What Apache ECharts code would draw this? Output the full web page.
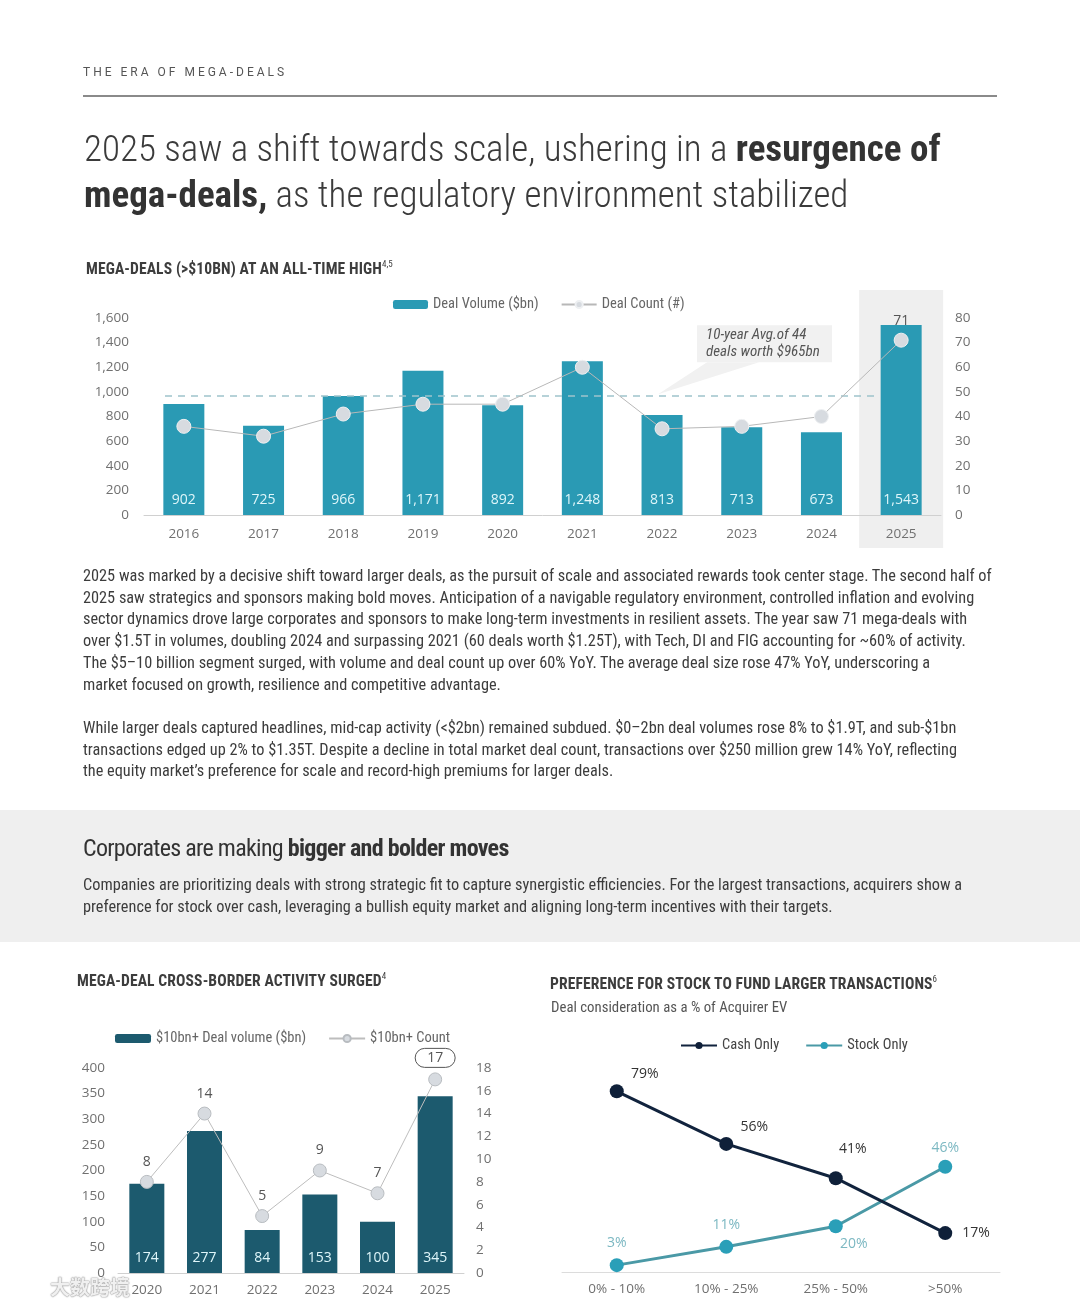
<!DOCTYPE html>
<html><head><meta charset="utf-8">
<script src="https://cdn.jsdelivr.net/npm/echarts@6/dist/echarts.min.js"></script>
<style>
html,body{margin:0;padding:0;background:#fff;}
body{width:1080px;height:1306px;position:relative;overflow:hidden;font-family:"Liberation Sans Narrow","Roboto Condensed","Roboto",sans-serif;color:#3a3a3a;}
.abs{position:absolute;white-space:nowrap;z-index:2;}
#band{position:absolute;left:0;top:810px;width:1080px;height:132px;background:#efefef;z-index:0;}
#chart{position:absolute;left:0;top:0;width:1080px;height:1306px;z-index:1;}
.kicker{left:83px;top:65px;font-size:12px;letter-spacing:3.0px;color:#555;font-family:"Roboto",sans-serif;}
.rule{position:absolute;left:83px;top:95px;width:914px;height:2px;background:#8a8a8a;}
.title{left:84px;top:126px;font-size:37px;line-height:46px;color:#3b3b3b;font-weight:300;}
.title b{font-weight:700;color:#333;}
.ctitle{font-size:15.6px;font-weight:700;color:#3d3d3d;letter-spacing:0.1px;}
.ctitle sup{font-size:9px;font-weight:400;vertical-align:7px;}
.sub{font-size:14.8px;color:#555;}
.p{left:83px;font-size:16.3px;line-height:21.7px;color:#3c3c3c;}
.h2{left:83px;top:834px;font-size:24px;color:#333;letter-spacing:-0.7px;}
.h2 b{font-weight:700;}
.wm{left:50px;top:1272px;font-size:20px;color:rgba(255,255,255,0.85);font-family:'Noto Sans CJK SC',sans-serif;font-weight:700;text-shadow:0 0 1px #999,0 0 1px #999,0 0 2px #aaa;}
</style></head>
<body>
<div id="band"></div>
<div id="chart"></div>
<div class="abs kicker">THE ERA OF MEGA-DEALS</div>
<div class="rule"></div>
<div class="abs title">2025 saw a shift towards scale, ushering in a <b>resurgence of</b><br><b>mega-deals,</b> as the regulatory environment stabilized</div>
<div class="abs ctitle" style="left:86px;top:259px;">MEGA-DEALS (&gt;$10BN) AT AN ALL-TIME HIGH<sup>4,5</sup></div>
<div class="abs p" style="top:565px;">2025 was marked by a decisive shift toward larger deals, as the pursuit of scale and associated rewards took center stage. The second half of<br>2025 saw strategics and sponsors making bold moves. Anticipation of a navigable regulatory environment, controlled inflation and evolving<br>sector dynamics drove large corporates and sponsors to make long-term investments in resilient assets. The year saw 71 mega-deals with<br>over $1.5T in volumes, doubling 2024 and surpassing 2021 (60 deals worth $1.25T), with Tech, DI and FIG accounting for ~60% of activity.<br>The $5–10 billion segment surged, with volume and deal count up over 60% YoY. The average deal size rose 47% YoY, underscoring a<br>market focused on growth, resilience and competitive advantage.</div>
<div class="abs p" style="top:717px;">While larger deals captured headlines, mid-cap activity (&lt;$2bn) remained subdued. $0–2bn deal volumes rose 8% to $1.9T, and sub-$1bn<br>transactions edged up 2% to $1.35T. Despite a decline in total market deal count, transactions over $250 million grew 14% YoY, reflecting<br>the equity market’s preference for scale and record-high premiums for larger deals.</div>
<div class="abs h2">Corporates are making <b>bigger and bolder moves</b></div>
<div class="abs p" style="top:874px;">Companies are prioritizing deals with strong strategic fit to capture synergistic efficiencies. For the largest transactions, acquirers show a<br>preference for stock over cash, leveraging a bullish equity market and aligning long-term incentives with their targets.</div>
<div class="abs ctitle" style="left:77px;top:971px;">MEGA-DEAL CROSS-BORDER ACTIVITY SURGED<sup>4</sup></div>
<div class="abs ctitle" style="left:550px;top:974px;">PREFERENCE FOR STOCK TO FUND LARGER TRANSACTIONS<sup>6</sup></div>
<div class="abs sub" style="left:551px;top:998px;">Deal consideration as a % of Acquirer EV</div>
<div class="abs wm">大数跨境</div>
<script>
// ---- Chart 1: mega-deals ----
const years1 = ['2016','2017','2018','2019','2020','2021','2022','2023','2024','2025'];
const dealVolume = [902, 725, 966, 1171, 892, 1248, 813, 713, 673, 1543];
const dealCount = [36, 32, 41, 45, 45, 60, 35, 36, 40, 71];
const avgVolume = 965;
const leftTicks1 = {min:0, max:1600, interval:200};
const rightTicks1 = {min:0, max:80, interval:10};
// ---- Chart 2: cross-border ----
const years2 = ['2020','2021','2022','2023','2024','2025'];
const cbVolume = [174, 277, 84, 153, 100, 345];
const cbCount = [8, 14, 5, 9, 7, 17];
const leftTicks2 = {min:0, max:400, interval:50};
const rightTicks2 = {min:0, max:18, interval:2};
// ---- Chart 3: stock vs cash ----
const buckets = ['0% - 10%', '10% - 25%', '25% - 50%', '>50%'];
const cashOnly = [79, 56, 41, 17];
const stockOnly = [3, 11, 20, 46];

const FONT = '"Liberation Sans Narrow","Roboto Condensed",Roboto,sans-serif';
const NUMFONT = '"Open Sans",Lato,sans-serif';
const fmt = v => Number(v).toLocaleString('en-US');
const axisLbl = {color:'#707070', fontSize:13.5, fontFamily:NUMFONT};

const chart = echarts.init(document.getElementById('chart'), null, {renderer:'canvas'});

const cashPos = [
  {position:'top', offset:[28,2]},
  {position:'top', offset:[28,2]},
  {position:'top', offset:[17,-10]},
  {position:'right', distance:10}
];
const stockPos = [
  {position:'top', distance:8},
  {position:'top', distance:8},
  {position:'bottom', offset:[18,0], distance:4},
  {position:'top', distance:5}
];

const option = {
  backgroundColor:'transparent',
  animation:false,
  textStyle:{fontFamily:FONT},
  grid:[
    {left:144, right:139, top:318, bottom:791},
    {left:118, right:616, top:1068, bottom:33},
    {left:562, right:80, top:1089, bottom:34}
  ],
  legend:[
    {data:['Deal Volume ($bn)','Deal Count (#)'], left:388, top:292, itemWidth:35, itemHeight:9, itemGap:22, textStyle:{color:'#666', fontSize:14.5, fontFamily:FONT}},
    {data:['$10bn+ Deal volume ($bn)','$10bn+ Count'], left:110, top:1026, itemWidth:36, itemHeight:9, itemGap:22, textStyle:{color:'#666', fontSize:14.5, fontFamily:FONT}},
    {data:['Cash Only','Stock Only'], left:675, top:1033, itemWidth:36, itemHeight:9, itemGap:26, textStyle:{color:'#444', fontSize:14.5, fontFamily:FONT}}
  ],
  xAxis:[
    {gridIndex:0, type:'category', data:years1, axisTick:{show:false}, axisLine:{lineStyle:{color:'#d0d0d0'}}, axisLabel:Object.assign({margin:12}, axisLbl)},
    {gridIndex:1, type:'category', data:years2, axisTick:{show:false}, axisLine:{lineStyle:{color:'#d0d0d0'}}, axisLabel:Object.assign({margin:10}, axisLbl)},
    {gridIndex:2, type:'category', data:buckets, axisTick:{show:false}, axisLine:{lineStyle:{color:'#dcdcdc'}}, axisLabel:Object.assign({margin:10}, axisLbl)}
  ],
  yAxis:[
    Object.assign({gridIndex:0, type:'value', position:'left', splitLine:{show:false}, axisLabel:Object.assign({margin:15, formatter:fmt}, axisLbl)}, leftTicks1),
    Object.assign({gridIndex:0, type:'value', position:'right', splitLine:{show:false}, axisLabel:Object.assign({margin:14}, axisLbl)}, rightTicks1),
    Object.assign({gridIndex:1, type:'value', position:'left', splitLine:{show:false}, axisLabel:Object.assign({margin:13}, axisLbl)}, leftTicks2),
    Object.assign({gridIndex:1, type:'value', position:'right', splitLine:{show:false}, axisLabel:Object.assign({margin:12}, axisLbl)}, rightTicks2),
    {gridIndex:2, type:'value', min:0, max:80, show:false}
  ],
  series:[
    {name:'Deal Volume ($bn)', type:'bar', xAxisIndex:0, yAxisIndex:0, data:dealVolume, barWidth:41,
     itemStyle:{color:'#2a9ab4'},
     label:{show:true, position:'insideBottom', distance:8, color:'#dff6fa', fontSize:14, fontFamily:NUMFONT, formatter:p=>fmt(p.value)},
     markLine:{silent:true, symbol:'none', label:{show:false}, lineStyle:{color:'#9fc3cc', type:[7,6], width:1.5},
       data:[[{coord:[0, avgVolume], x:165}, {coord:[years1.length-1, avgVolume], x:880}]]}
    },
    {name:'Deal Count (#)', type:'line', xAxisIndex:0, yAxisIndex:1, z:5,
     data:dealCount.map((v,i)=>({value:v, label:{show:i===dealCount.length-1}})),
     symbol:'circle', symbolSize:14, lineStyle:{color:'#b8b8b8', width:1},
     itemStyle:{color:'#d7dbe0', borderColor:'#eef0f2', borderWidth:1},
     label:{position:'top', distance:5, color:'#555', fontSize:14, fontFamily:NUMFONT}
    },
    {name:'$10bn+ Deal volume ($bn)', type:'bar', xAxisIndex:1, yAxisIndex:2, data:cbVolume, barWidth:35,
     itemStyle:{color:'#1c5a6e'},
     label:{show:true, position:'insideBottom', distance:8, color:'#dff6fa', fontSize:14, fontFamily:NUMFONT}
    },
    {name:'$10bn+ Count', type:'line', xAxisIndex:1, yAxisIndex:3, z:5,
     data:cbCount.map((v,i)=>({value:v, label: i===cbCount.length-1 ? {borderColor:'#555', borderWidth:1, borderRadius:12, padding:[3,12,2,12], distance:5} : {}})),
     symbol:'circle', symbolSize:13, lineStyle:{color:'#bdbdbd', width:1},
     itemStyle:{color:'#d7dbe0', borderColor:'#b8bcc0', borderWidth:1},
     label:{show:true, position:'top', distance:6, color:'#555', fontSize:14, fontFamily:NUMFONT}
    },
    {name:'Cash Only', type:'line', xAxisIndex:2, yAxisIndex:4, z:4,
     data:cashOnly.map((v,i)=>({value:v, label:cashPos[i]})),
     symbol:'circle', symbolSize:14, lineStyle:{color:'#11233d', width:3}, itemStyle:{color:'#0f2039'},
     label:{show:true, color:'#333', fontSize:14, fontFamily:NUMFONT, formatter:'{c}%'}
    },
    {name:'Stock Only', type:'line', xAxisIndex:2, yAxisIndex:4, z:3,
     data:stockOnly.map((v,i)=>({value:v, label:stockPos[i]})),
     symbol:'circle', symbolSize:14, lineStyle:{color:'#4a99a6', width:3}, itemStyle:{color:'#2a9fb8'},
     label:{show:true, color:'#7cb8c2', fontSize:14, fontFamily:NUMFONT, formatter:'{c}%'}
    }
  ]
};
chart.setOption(option);

// highlight box for 2025 and annotation callout, positioned from the axes
const last = chart.convertToPixel({xAxisIndex:0, yAxisIndex:0}, [years1.length-1, 0]);
const tip = chart.convertToPixel({xAxisIndex:0, yAxisIndex:0}, [6, avgVolume]);
const bx = tip[0] + 35, by = tip[1] - 71;
chart.setOption({graphic:[
  {type:'rect', z:-10, shape:{x:last[0]-42, y:290, width:84, height:258}, style:{fill:'#efefef'}},
  {type:'polygon', z:-5, shape:{points:[[tip[0]-4, tip[1]-2],[bx+10, by+37],[bx+62, by+37]]}, style:{fill:'#f1f1f1'}},
  {type:'rect', z:-5, shape:{x:bx, y:by, width:135, height:37}, style:{fill:'#f1f1f1'}},
  {type:'text', z:10, x:bx+9, y:by+2, style:{text:'10-year Avg.of 44\ndeals worth $965bn', fill:'#555', fontSize:15, fontStyle:'italic', lineHeight:17, fontFamily:FONT}}
]});
</script>
</body></html>
